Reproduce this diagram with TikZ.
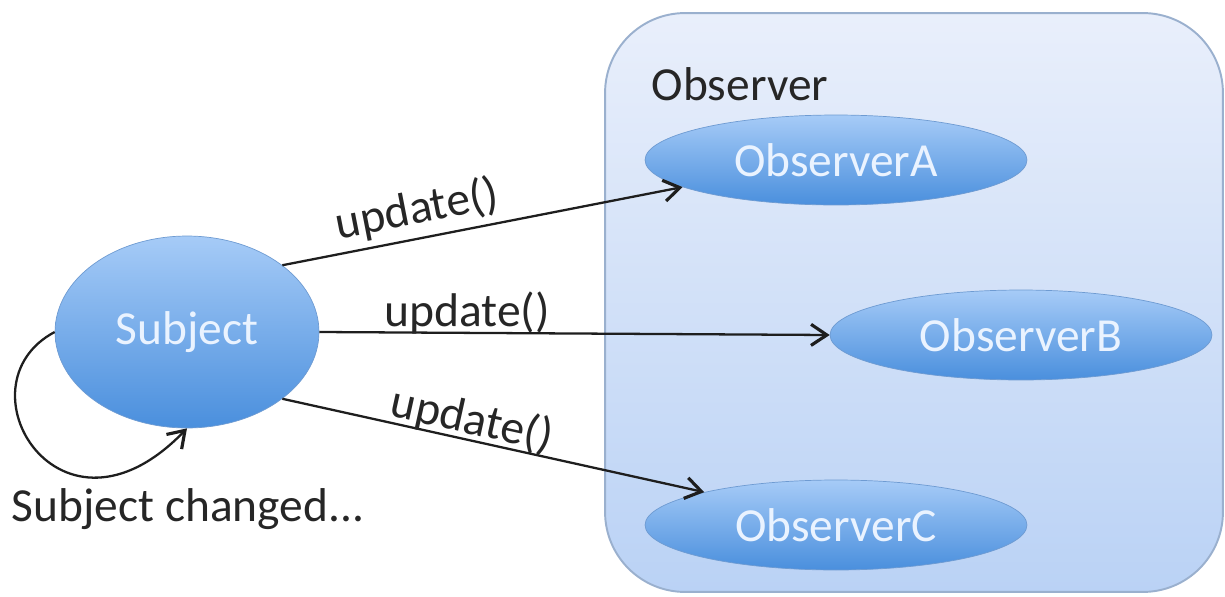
\documentclass[tikz,border=0pt]{standalone}
\usepackage{fontspec}
\setmainfont{Carlito}
\usetikzlibrary{arrows.meta,shapes.geometric}
\definecolor{frametop}{HTML}{E9EFFB}
\definecolor{framebottom}{HTML}{BAD2F5}
\definecolor{frameline}{HTML}{9AB0CE}
\definecolor{elltop}{HTML}{A6CBF7}
\definecolor{ellbottom}{HTML}{4A8FDD}
\definecolor{ellline}{HTML}{6E9BD2}
\definecolor{elltext}{HTML}{EAF3FF}
\definecolor{textgray}{HTML}{262626}
\definecolor{linegray}{HTML}{1E1E1E}
\begin{document}
\begin{tikzpicture}
[x=0.02cm,y=-0.02cm,font=\fontsize{27}{32}\selectfont,
  nodedecorate/.style={shape=ellipse,inner sep=0pt,draw=ellline,thin,
    top color=elltop,bottom color=ellbottom,text=elltext},
  linedecorate/.style={-{Straight Barb[length=9pt,width=12pt,line width=1.8pt]},line width=1.3pt,draw=linegray},
  labeldecorate/.style={sloped,inner sep=0pt,text=textgray}]
\useasboundingbox (0,0) rectangle (1225,596);
%% observer frame
\node (frame) at (914,302.5) [draw=frameline,line width=1.1pt,rounded corners=1.6cm,
  top color=frametop,bottom color=framebottom,
  minimum width=12.36cm,minimum height=11.58cm] {};
\node (framelabel) at (740,100) [anchor=base,text=textgray] {Observer};
%% nodes or ellipses
\node (Subject) at (187,332) [nodedecorate,minimum width=5.28cm,minimum height=3.84cm] {Subject};
\foreach \nodename/\x/\y in {ObserverA/836/160, ObserverB/1021/335, ObserverC/836/525} {
  \node (\nodename) at (\x,\y) [nodedecorate,minimum width=7.64cm,minimum height=1.8cm] {\nodename};
}
\node (changed) at (188,521) [anchor=base,text=textgray] {Subject changed...};
%% calls
\path
\foreach \startnode/\endnode/\where/\gap in {Subject.35/ObserverA.190/0.35/0.12cm,
  Subject.east/ObserverB.west/0.29/-0.05cm, Subject.-35/ObserverC.166/0.44/-0.05cm} {
  (\startnode) edge[linedecorate] node[labeldecorate,pos=\where,above=\gap] {update()} (\endnode)
};
%% self call
\draw[linedecorate] (Subject.west) .. controls (-45,385) and (60,560) .. (Subject.south);
\end{tikzpicture}
\end{document}
